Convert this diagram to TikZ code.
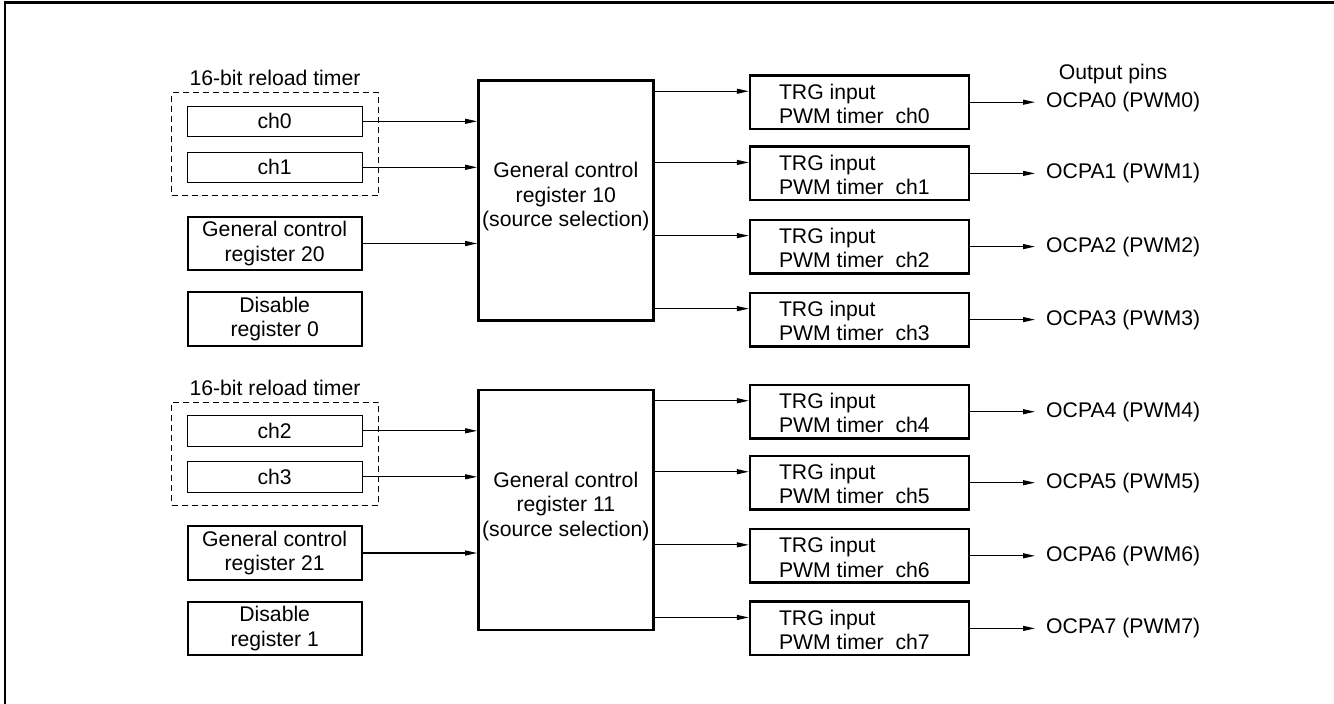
\documentclass[tikz,border=0pt]{standalone}
\usepackage{fontspec}
\setmainfont{Liberation Sans}
\usetikzlibrary{arrows.meta}
\tikzset{
  every node/.style={font=\fontsize{21.2}{24.4}\selectfont},
  thinbox/.style={draw, line width=1pt, minimum width=175pt, minimum height=30.5pt, inner sep=0pt},
  thickbox/.style={draw, line width=2.4pt, align=center, inner sep=0pt},
  dashbox/.style={draw, line width=1pt, dash pattern=on 6pt off 4pt, minimum width=207pt, minimum height=103pt, inner sep=0pt},
  plain/.style={inner sep=0pt, align=center},
  arr/.style={line width=1.2pt, -{Triangle[length=12pt,width=5pt]}},
  frame/.style={line width=2.5pt}
}
\begin{document}
\begin{tikzpicture}[x=1pt,y=-1pt]
\useasboundingbox (0,0) rectangle (1334,704);
\draw[frame] (5,704) -- (5,2.5) -- (1334,2.5);

% ---- two groups
\foreach \g/\off/\ca/\cb/\gr/\dr/\gc in {0/0/0/1/20/0/10, 1/309.5/2/3/21/1/11}{
  \node[plain] (title\g) at (275,78+\off) {16-bit reload timer};
  \node[dashbox] (tim\g) at (275.3,144.2+\off) {};
  \node[thinbox] (cha\g) at (274.7,121.3+\off) {ch\ca};
  \node[thinbox] (chb\g) at (274.7,167.3+\off) {ch\cb};
  \node[thickbox, minimum width=174pt, minimum height=53.5pt] (gcr\g) at (274.7,243.5+\off) {General control\\register \gr};
  \node[thickbox, minimum width=174pt, minimum height=53.5pt] (dis\g) at (274.7,319+\off) {Disable\\register \dr};
  \node[thickbox, minimum width=175pt, minimum height=240pt] (big\g) at (565.8,200.3+\off) {};
  \node[plain] (bigt\g) at ([yshift=3.5pt]big\g.center) {General control\\register \gc\\(source selection)};
  \draw[arr] (cha\g.east) -- (cha\g.east -| big\g.west);
  \draw[arr] (chb\g.east) -- (chb\g.east -| big\g.west);
  \draw[arr] (gcr\g.east) -- (gcr\g.east -| big\g.west);
}

% ---- PWM timers and output pins
\foreach \i/\yc in {0/102.2,1/173.4,2/246.6,3/319.6,4/411.7,5/482.7,6/555.8,7/628.4}{
  \node[thickbox, minimum width=219pt, minimum height=53.5pt] (trg\i) at (859.5,\yc) {};
  \node[plain, anchor=west, align=left] (trgt\i) at ([xshift=30pt,yshift=-1.5pt]trg\i.west) {TRG input\\PWM timer\ \ ch\i};
  \coordinate (in\i) at ([yshift=-17pt]trg\i.north west);
  \node[plain, anchor=west] (pin\i) at (1046,\yc) {OCPA\i\ (PWM\i)};
  \draw[arr, shorten >=11pt] (trg\i.east) -- (trg\i.east -| pin\i.west);
}
\foreach \i in {0,1,2,3}{ \draw[arr] (in\i -| big0.east) -- (in\i); }
\foreach \i in {4,5,6,7}{ \draw[arr] (in\i -| big1.east) -- (in\i); }

\node[plain] (pinst) at (1113,74) {Output pins};
\end{tikzpicture}
\end{document}
